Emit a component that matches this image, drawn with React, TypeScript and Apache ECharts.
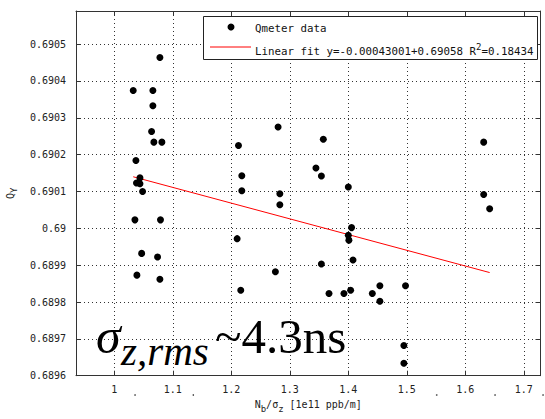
import React, { useEffect, useRef } from 'react';
import * as echarts from 'echarts';

const xTickValues = [1.0, 1.1, 1.2, 1.3, 1.4, 1.5, 1.6, 1.7];
const qmeterX = [
  1.078, 1.0324, 1.066, 1.066, 1.0638, 1.0677, 1.0814, 1.037, 1.0439, 1.038,
  1.0439, 1.0484, 1.0353, 1.079, 1.0468, 1.074, 1.0387, 1.078, 1.2123, 1.218,
  1.218, 1.21, 1.2162, 1.28, 1.283, 1.283, 1.2754, 1.3573, 1.3447, 1.354,
  1.4, 1.4056, 1.4, 1.401, 1.408, 1.354, 1.367, 1.3925, 1.404, 1.441,
  1.454, 1.454, 1.4978, 1.495, 1.495, 1.6314, 1.6314, 1.6416,
];
const qmeterY = [
  0.690464, 0.690374, 0.690374, 0.690333, 0.690263, 0.690234, 0.690234, 0.690184, 0.690137, 0.690123,
  0.690121, 0.6901, 0.690023, 0.690023, 0.689932, 0.689922, 0.689873, 0.689862, 0.690225, 0.690143,
  0.690102, 0.689972, 0.689832, 0.690275, 0.690094, 0.690064, 0.689882, 0.690242, 0.690164, 0.690142,
  0.690112, 0.690002, 0.689981, 0.689968, 0.689914, 0.689903, 0.689823, 0.689823, 0.689832, 0.689823,
  0.689844, 0.689802, 0.689844, 0.689682, 0.689634, 0.690234, 0.690092, 0.690053,
];
const fitX = [1.0324, 1.6416];
const fitY = [0.69014, 0.68988];
const seriesNames = ['Qmeter data', 'Linear fit'];
const fitLegendText = 'Linear fit y=-0.00043001+0.69058 R{sup|2}=0.18434';
const xAxisName = 'N{sub|b}/σ{sub|z} [1e11 ppb/m]';
const yAxisName = 'Q{sub|Y}';
const strayDotsX = [135, 193.3, 436.7, 495, 543];

const MONO = "'DejaVu Sans Mono', monospace";
const SERIF = "'Liberation Serif', 'DejaVu Serif', serif";

export default function App() {
  const ref = useRef<HTMLDivElement>(null);
  useEffect(() => {
    if (!ref.current) return;
    const chart = echarts.init(ref.current, null, { renderer: 'svg' });
    const gridLine = { show: true, lineStyle: { color: '#333', width: 1, type: [1, 3] as any } };
    const axisLine = { show: true, onZero: false, lineStyle: { color: '#333', width: 1 } };
    chart.setOption({
      animation: false,
      backgroundColor: '#fff',
      grid: { left: 76, right: 4.5, top: 11, bottom: 43.3, outerBoundsMode: 'none' },
      xAxis: [
        {
          type: 'value', min: 0.9346, max: 1.7285, position: 'bottom',
          axisLine,
          axisTick: { show: true, inside: true, length: 5, customValues: xTickValues, lineStyle: { color: '#333' } },
          axisLabel: { customValues: xTickValues, margin: 9, fontFamily: MONO, fontSize: 10, color: '#222',
            formatter: (v: number) => String(Number(v.toFixed(4))) },
          splitLine: gridLine,
          name: xAxisName, nameLocation: 'middle', nameGap: 16,
          nameTextStyle: { fontFamily: MONO, fontSize: 10, color: '#222', rich: { sub: { fontFamily: MONO, fontSize: 9, padding: [8, 0, 0, 0], color: '#222' } } },
        },
        {
          type: 'value', min: 0.9346, max: 1.7285, position: 'top',
          axisLine,
          axisTick: { show: true, inside: true, length: 5, customValues: xTickValues, lineStyle: { color: '#333' } },
          axisLabel: { show: false }, splitLine: { show: false },
        },
      ],
      yAxis: [
        {
          type: 'value', min: 0.6896, max: 0.69059, interval: 0.0001, position: 'left',
          axisLine,
          axisTick: { show: true, inside: true, length: 5, lineStyle: { color: '#333' } },
          axisLabel: { margin: 10, fontFamily: MONO, fontSize: 10, color: '#222', showMaxLabel: false,
            formatter: (v: number) => String(Number(v.toFixed(4))) },
          splitLine: gridLine,
          name: yAxisName, nameLocation: 'middle', nameGap: 54, nameRotate: 90,
          nameTextStyle: { fontFamily: MONO, fontSize: 10, color: '#222', rich: { sub: { fontFamily: MONO, fontSize: 9, padding: [8, 0, 0, 0], color: '#222' } } },
        },
        {
          type: 'value', min: 0.6896, max: 0.69059, interval: 0.0001, position: 'right',
          axisLine,
          axisTick: { show: true, inside: true, length: 5, lineStyle: { color: '#333' } },
          axisLabel: { show: false }, splitLine: { show: false },
        },
      ],
      series: [
        {
          name: seriesNames[0], type: 'scatter', symbol: 'circle', symbolSize: 7,
          itemStyle: { color: '#000', opacity: 1 },
          data: qmeterX.map((x, i) => [x, qmeterY[i]]),
          z: 3,
        },
        {
          name: seriesNames[1], type: 'line', symbol: 'none',
          lineStyle: { color: '#ff0000', width: 1 },
          data: fitX.map((x, i) => [x, fitY[i]]),
          z: 2,
        },
      ],
      graphic: [
        { type: 'rect', shape: { x: 203.5, y: 16.5, width: 334, height: 43 }, style: { fill: '#fff', stroke: '#222', lineWidth: 1 }, z: 10 },
        { type: 'circle', shape: { cx: 231, cy: 27, r: 3.5 }, style: { fill: '#000' }, z: 11 },
        { type: 'line', shape: { x1: 210, y1: 47, x2: 251, y2: 47 }, style: { stroke: '#ff0000', lineWidth: 1 }, z: 11 },
        { type: 'text', x: 255, y: 28, style: { text: seriesNames[0], fontFamily: MONO, fontSize: 10.8, fill: '#111', verticalAlign: 'middle' }, z: 11 },
        { type: 'text', x: 255, y: 51, style: { text: fitLegendText, fontFamily: MONO, fontSize: 10.8, fill: '#111', verticalAlign: 'middle',
          rich: { sup: { fontFamily: MONO, fontSize: 9, padding: [0, 0, 8, 0], fill: '#111' } } }, z: 11 },
        { type: 'text', x: 96, y: 336, style: { text: 'σ', fontFamily: SERIF, fontStyle: 'italic', fontSize: 50, fill: '#000', verticalAlign: 'middle' }, z: 5 },
        { type: 'text', x: 121, y: 351, style: { text: 'z,rms', fontFamily: SERIF, fontStyle: 'italic', fontSize: 41, fill: '#000', verticalAlign: 'middle' }, z: 5 },
        { type: 'text', x: 215, y: 336, style: { text: '~4.3ns', fontFamily: SERIF, fontSize: 49, fill: '#000', verticalAlign: 'middle' }, z: 5 },
        ...strayDotsX.map((x) => ({ type: 'circle', shape: { cx: x, cy: 395, r: 0.8 }, style: { fill: '#555' }, z: 5 })),
      ],
    });
    return () => chart.dispose();
  }, []);
  return <div ref={ref} style={{ position: 'absolute', left: 0, top: 0, width: 545, height: 419 }} />;
}
